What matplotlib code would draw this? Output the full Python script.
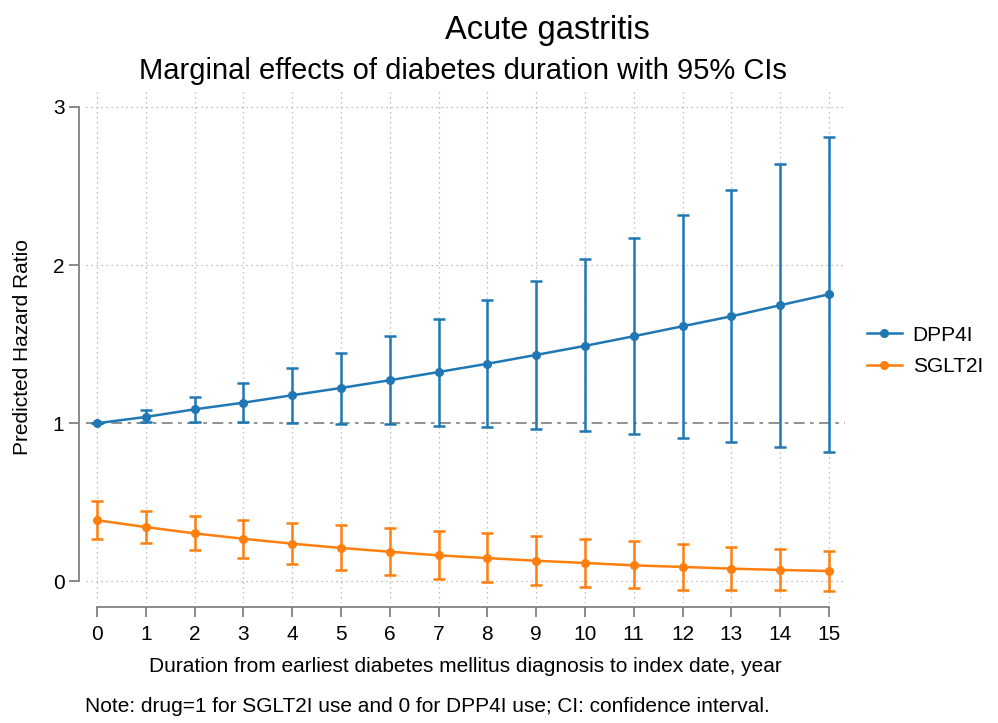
import matplotlib
matplotlib.use("Agg")
import matplotlib.pyplot as plt
import numpy as np

plt.rcParams['font.family'] = ['Liberation Sans', 'DejaVu Sans']

years = list(range(16))
dpp4i = [1.00, 1.04, 1.088, 1.13, 1.177, 1.223, 1.272, 1.324, 1.376, 1.432, 1.489, 1.55, 1.613, 1.676, 1.746, 1.815]
dpp4i_lo = [1.00, 1.008, 1.01, 1.005, 1.0, 0.998, 0.994, 0.985, 0.975, 0.962, 0.948, 0.93, 0.905, 0.884, 0.853, 0.821]
dpp4i_hi = [1.00, 1.084, 1.166, 1.253, 1.347, 1.447, 1.551, 1.661, 1.78, 1.90, 2.036, 2.173, 2.318, 2.476, 2.64, 2.81]
sglt2i = [0.387, 0.344, 0.304, 0.27, 0.239, 0.212, 0.188, 0.165, 0.148, 0.131, 0.117, 0.102, 0.092, 0.081, 0.073, 0.066]
sglt2i_lo = [0.268, 0.241, 0.197, 0.15, 0.109, 0.073, 0.039, 0.016, -0.005, -0.024, -0.035, -0.043, -0.052, -0.056, -0.056, -0.058]
sglt2i_hi = [0.507, 0.447, 0.414, 0.39, 0.371, 0.355, 0.338, 0.319, 0.304, 0.286, 0.268, 0.254, 0.237, 0.22, 0.205, 0.19]

blue = '#1f77b4'
orange = '#ff7f0e'

fig = plt.figure(figsize=(9.98, 7.23), dpi=100)
ax = fig.add_axes([86/998, 1-603/723, (845-86)/998, (603-91)/723])

# grid
for yv in [0, 2, 3]:
    ax.axhline(yv, color='#aaaaaa', lw=0.9, ls=(0, (1, 3)), zorder=0)
for xv in years:
    ax.axvline(xv, color='#aaaaaa', lw=0.9, ls=(0, (1, 3)), zorder=0)
ax.axhline(1, color='#888888', lw=1.3, ls=(0, (6, 3, 2, 3)), zorder=1)

def draw(y, lo, hi, c, label):
    y = np.array(y); lo = np.array(lo); hi = np.array(hi)
    ax.errorbar(years, y, yerr=[y - lo, hi - y], fmt='none', ecolor=c,
                elinewidth=1.8, capsize=4.5, capthick=1.8, zorder=2)
    ax.plot(years, y, color=c, lw=1.8, marker='o', ms=5.5, label=label, zorder=3)

draw(dpp4i, dpp4i_lo, dpp4i_hi, blue, 'DPP4I')
draw(sglt2i, sglt2i_lo, sglt2i_hi, orange, 'SGLT2I')

ax.set_xlim(-0.225, 15.33)
ax.set_ylim(-0.136, 3.1)
ax.set_xticks(years)
ax.set_yticks([0, 1, 2, 3])
for s in ['top', 'right']:
    ax.spines[s].set_visible(False)
ax.spines['left'].set_position(('outward', 5))
ax.spines['bottom'].set_position(('outward', 3))
ax.spines['left'].set_bounds(0, 3)
ax.spines['bottom'].set_bounds(0, 15)
for s in ['left', 'bottom']:
    ax.spines[s].set_color('#777777')
    ax.spines[s].set_linewidth(1.2)
ax.tick_params(axis='both', colors='#777777', length=7, width=1.2, labelsize=15, labelcolor='black')
ax.tick_params(axis='x', pad=6)

ax.set_ylabel('Predicted Hazard Ratio', fontsize=15, labelpad=15)
ax.set_xlabel('Duration from earliest diabetes mellitus diagnosis to index date, year', fontsize=15, labelpad=9)

fig.text(547/998, 1-30/723, 'Acute gastritis', ha='center', va='center', fontsize=23.5)
fig.text(463/998, 1-71/723, 'Marginal effects of diabetes duration with 95% CIs', ha='center', va='center', fontsize=21)
fig.text(85/998, 1-706/723, 'Note: drug=1 for SGLT2I use and 0 for DPP4I use; CI: confidence interval.', ha='left', va='center', fontsize=15)

leg = ax.legend(loc='center left', bbox_to_anchor=(848/998, 1-351/723), bbox_transform=fig.transFigure,
                frameon=False, fontsize=15, handlelength=1.7, handletextpad=0.5, labelspacing=0.6)

fig.savefig('out.png', dpi=100)
